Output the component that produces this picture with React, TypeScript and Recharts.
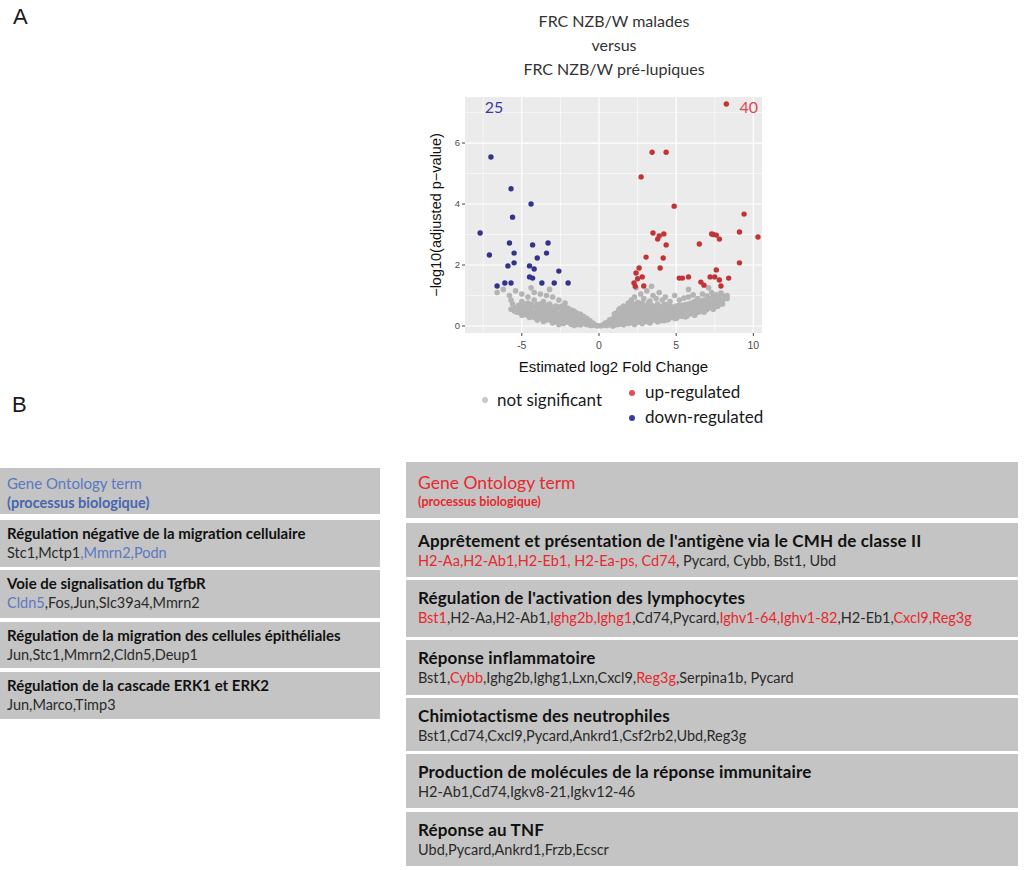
import { ScatterChart, Scatter, XAxis, YAxis, CartesianGrid, ReferenceDot, Label } from 'recharts'

// volcano plot values
const xTicks = [-5, 0, 5, 10]
const yTicks = [0, 2, 4, 6]
const xMinor = [-7.5, -2.5, 2.5, 7.5]
const yMinor = [1, 3, 5, 7]

const downRegulated = [
  [-7.0, 5.54], [-5.7, 4.5], [-4.4, 4.0], [-5.6, 3.57], [-7.7, 3.05], [-7.1, 2.33],
  [-5.8, 2.72], [-4.3, 2.66], [-3.3, 2.72], [-3.4, 2.39], [-5.5, 2.39], [-4.0, 2.23],
  [-5.9, 1.97], [-5.5, 2.07], [-4.5, 1.97], [-4.2, 1.87], [-2.6, 1.8], [-4.5, 1.61],
  [-4.3, 1.57], [-6.6, 1.31], [-6.1, 1.41], [-5.7, 1.41], [-3.7, 1.41], [-2.9, 1.41],
  [-2.0, 1.41],
]

const upRegulated = [
  [8.25, 7.28], [3.44, 5.7], [4.35, 5.7], [2.73, 4.89], [4.87, 3.93], [9.4, 3.67],
  [9.1, 3.08], [10.3, 2.92], [3.5, 3.05], [4.2, 3.02], [3.8, 2.85], [4.35, 2.66],
  [7.3, 3.02], [7.6, 2.98], [7.8, 2.85], [6.5, 2.69], [3.05, 2.26], [4.16, 2.23],
  [3.96, 1.9], [9.1, 2.07], [2.6, 1.9], [2.4, 1.74], [2.8, 1.61], [2.27, 1.41],
  [2.9, 1.31], [5.2, 1.57], [5.8, 1.61], [7.6, 1.84], [7.2, 1.61], [7.5, 1.61],
  [8.4, 1.57], [7.8, 1.51], [6.6, 1.44], [6.8, 1.34], [7.9, 1.31], [5.4, 1.57],
  [2.5, 1.55], [3.9, 2.95], [7.4, 3.0], [2.35, 1.3],
]

const notSignificant = [
  [0.1, 0.01], [0.3, 0.03], [0.5, 0.02], [0.6, 0.08], [0.8, 0.05], [0.9, 0.15], [1.0, 0.03], [1.1, 0.1],
  [1.2, 0.22], [1.3, 0.06], [1.4, 0.3], [1.5, 0.12], [1.6, 0.04], [1.7, 0.2], [1.8, 0.35], [1.9, 0.08],
  [2.0, 0.45], [2.1, 0.15], [2.2, 0.28], [2.3, 0.05], [2.4, 0.38], [2.5, 0.12], [2.6, 0.55], [2.7, 0.22],
  [2.8, 0.08], [2.9, 0.42], [3.0, 0.3], [3.1, 0.15], [3.2, 0.6], [3.3, 0.1], [3.4, 0.35], [3.5, 0.48],
  [3.6, 0.2], [3.7, 0.65], [3.8, 0.14], [3.9, 0.4], [4.0, 0.28], [4.1, 0.55], [4.2, 0.18], [4.3, 0.7],
  [4.4, 0.35], [4.5, 0.22], [4.6, 0.5], [4.7, 0.28], [4.8, 0.62], [4.9, 0.25], [5.0, 0.42], [5.1, 0.3],
  [5.2, 0.55], [5.3, 0.34], [5.4, 0.68], [5.5, 0.38], [5.6, 0.5], [5.7, 0.33], [5.8, 0.6], [5.9, 0.42],
  [6.0, 0.75], [6.1, 0.4], [6.2, 0.55], [6.3, 0.45], [6.4, 0.68], [6.5, 0.5], [6.6, 0.82], [6.7, 0.55],
  [6.8, 0.62], [6.9, 0.52], [7.0, 0.78], [7.1, 0.6], [7.2, 0.9], [7.3, 0.65], [7.4, 0.72], [7.5, 0.62],
  [7.6, 0.85], [7.7, 0.75], [7.8, 0.95], [7.9, 0.8], [8.0, 0.88], [8.2, 0.92],
  [0.7, 0.2], [1.0, 0.4], [1.3, 0.55], [1.6, 0.65], [1.9, 0.75], [2.1, 0.85], [2.3, 0.95], [2.5, 0.78],
  [2.7, 1.05], [2.9, 0.9], [3.1, 1.15], [3.3, 0.82], [3.5, 1.0], [3.7, 0.9], [3.9, 1.1], [4.1, 0.85],
  [4.3, 0.95], [4.6, 0.8], [4.9, 1.0], [5.2, 0.85], [5.5, 0.92], [5.8, 0.95], [6.1, 1.02], [6.4, 0.9],
  [6.7, 1.05], [7.0, 0.98], [7.3, 1.1], [7.6, 1.02], [7.9, 1.08], [8.1, 0.98],
  [0.4, 0.1], [0.9, 0.0], [1.5, 0.25], [2.0, 0.1], [2.6, 0.3], [3.2, 0.2], [3.8, 0.3], [4.4, 0.2],
  [5.0, 0.25], [5.6, 0.3], [6.2, 0.35], [6.8, 0.45], [7.4, 0.55], [8.0, 0.72], [1.2, 0.05], [2.2, 0.6],
  [3.0, 0.5], [4.0, 0.45], [5.3, 0.48], [6.5, 0.6], [7.7, 0.65],
  [2.4, 1.25], [3.4, 1.3], [5.8, 1.2], [7.1, 1.25],
  [0.2, 0.02], [0.4, 0.05], [0.6, 0.03], [0.6, 0.14], [0.8, 0.1], [0.8, 0.22], [1.0, 0.12], [1.0, 0.3],
  [1.2, 0.13], [1.2, 0.35], [1.2, 0.45], [1.4, 0.08], [1.4, 0.2], [1.4, 0.45], [1.4, 0.58], [1.6, 0.15],
  [1.6, 0.35], [1.6, 0.5], [1.8, 0.12], [1.8, 0.25], [1.8, 0.5], [1.8, 0.62], [2.0, 0.2], [2.0, 0.32],
  [2.0, 0.6], [2.0, 0.7], [2.2, 0.1], [2.2, 0.42], [2.2, 0.52], [2.2, 0.72], [2.4, 0.2], [2.4, 0.5],
  [2.4, 0.65], [2.6, 0.15], [2.6, 0.42], [2.6, 0.68], [2.8, 0.3], [2.8, 0.5], [2.8, 0.62], [2.8, 0.75],
  [3.0, 0.2], [3.0, 0.4], [3.0, 0.65], [3.2, 0.28], [3.2, 0.45], [3.2, 0.75], [3.4, 0.18], [3.4, 0.55],
  [3.4, 0.68], [3.6, 0.3], [3.6, 0.42], [3.6, 0.58], [3.8, 0.22], [3.8, 0.5], [3.8, 0.72], [4.0, 0.18],
  [4.0, 0.38], [4.0, 0.62], [4.2, 0.28], [4.2, 0.45], [4.2, 0.68], [4.4, 0.25], [4.4, 0.52], [4.4, 0.62],
  [4.6, 0.32], [4.6, 0.42], [4.6, 0.66], [4.8, 0.3], [4.8, 0.48], [4.8, 0.55], [5.0, 0.3], [5.0, 0.55],
  [5.0, 0.65], [5.2, 0.38], [5.2, 0.45], [5.2, 0.68], [5.4, 0.32], [5.4, 0.5], [5.4, 0.58], [5.6, 0.4],
  [5.6, 0.62], [5.6, 0.7], [5.8, 0.38], [5.8, 0.48], [5.8, 0.72], [6.0, 0.45], [6.0, 0.58], [6.0, 0.65],
  [6.2, 0.42], [6.2, 0.48], [6.2, 0.7], [6.2, 0.8], [6.4, 0.45], [6.4, 0.55], [6.4, 0.78], [6.6, 0.48],
  [6.6, 0.68], [6.6, 0.74], [6.8, 0.55], [6.8, 0.72], [6.8, 0.85], [7.0, 0.55], [7.0, 0.65], [7.0, 0.88],
  [7.2, 0.62], [7.2, 0.75], [7.2, 0.82], [7.4, 0.65], [7.4, 0.85], [7.4, 0.95], [7.6, 0.68], [7.6, 0.75],
  [7.6, 0.92], [7.8, 0.72], [7.8, 0.85], [8.0, 0.8], [8.0, 0.95], [8.3, 0.9], [8.3, 1.0],
  [-0.1, 0.01], [-0.3, 0.04], [-0.5, 0.02], [-0.6, 0.12], [-0.8, 0.05], [-0.9, 0.2], [-1.0, 0.08], [-1.1, 0.28],
  [-1.2, 0.04], [-1.3, 0.15], [-1.4, 0.35], [-1.5, 0.1], [-1.6, 0.25], [-1.7, 0.42], [-1.8, 0.06], [-1.9, 0.3],
  [-2.0, 0.5], [-2.1, 0.18], [-2.2, 0.38], [-2.3, 0.08], [-2.4, 0.55], [-2.5, 0.25], [-2.6, 0.42], [-2.7, 0.12],
  [-2.8, 0.65], [-2.9, 0.32], [-3.0, 0.48], [-3.1, 0.18], [-3.2, 0.72], [-3.3, 0.38], [-3.4, 0.55], [-3.5, 0.22],
  [-3.6, 0.8], [-3.7, 0.42], [-3.8, 0.6], [-3.9, 0.28], [-4.0, 0.7], [-4.1, 0.45], [-4.2, 0.85], [-4.3, 0.35],
  [-4.4, 0.6], [-4.5, 0.5], [-4.6, 0.75], [-4.7, 0.4], [-4.8, 0.62], [-4.9, 0.48], [-5.0, 0.8], [-5.1, 0.52],
  [-5.2, 0.68], [-5.3, 0.45], [-5.4, 0.6], [-5.5, 0.5], [-5.6, 0.72],
  [-2.2, 0.75], [-2.6, 0.85], [-3.0, 0.95], [-3.4, 1.0], [-3.8, 1.05], [-4.2, 1.1], [-4.6, 0.95], [-5.0, 1.05],
  [-5.4, 1.15], [-5.8, 1.0], [-6.2, 1.2], [-6.6, 1.1], [-3.2, 1.2], [-4.4, 1.25],
  [-0.4, 0.1], [-1.0, 0.18], [-1.6, 0.02], [-2.0, 0.3], [-2.6, 0.05], [-3.0, 0.1], [-3.6, 0.15], [-4.0, 0.2],
  [-4.5, 0.28], [-5.0, 0.35], [-1.4, 0.05], [-2.4, 0.15], [-3.3, 0.25],
  [-0.2, 0.02], [-0.4, 0.06], [-0.6, 0.03], [-0.6, 0.18], [-0.8, 0.12], [-0.8, 0.25], [-1.0, 0.14], [-1.0, 0.32],
  [-1.2, 0.12], [-1.2, 0.22], [-1.2, 0.38], [-1.4, 0.2], [-1.4, 0.28], [-1.4, 0.42], [-1.6, 0.1], [-1.6, 0.35],
  [-1.6, 0.48], [-1.8, 0.18], [-1.8, 0.4], [-1.8, 0.52], [-2.0, 0.12], [-2.0, 0.22], [-2.0, 0.42], [-2.0, 0.58],
  [-2.2, 0.25], [-2.2, 0.5], [-2.2, 0.62], [-2.4, 0.3], [-2.4, 0.45], [-2.4, 0.65], [-2.6, 0.18], [-2.6, 0.32],
  [-2.6, 0.62], [-2.8, 0.22], [-2.8, 0.45], [-2.8, 0.55], [-3.0, 0.25], [-3.0, 0.4], [-3.0, 0.62], [-3.2, 0.28],
  [-3.2, 0.5], [-3.2, 0.6], [-3.4, 0.2], [-3.4, 0.42], [-3.4, 0.68], [-3.6, 0.3], [-3.6, 0.5], [-3.6, 0.62],
  [-3.8, 0.25], [-3.8, 0.45], [-3.8, 0.72], [-4.0, 0.32], [-4.0, 0.52], [-4.0, 0.62], [-4.2, 0.28], [-4.2, 0.45],
  [-4.2, 0.65], [-4.4, 0.32], [-4.4, 0.48], [-4.4, 0.7], [-4.6, 0.35], [-4.6, 0.58], [-4.6, 0.65], [-4.8, 0.38],
  [-4.8, 0.52], [-4.8, 0.72], [-5.0, 0.42], [-5.0, 0.55], [-5.0, 0.65], [-5.2, 0.45], [-5.2, 0.58], [-5.4, 0.48],
  [-5.4, 0.55], [-5.7, 0.55], [-5.7, 0.85],
]

// gene ontology tables: [text, highlighted]
type Seg = [string, boolean]
const downTerms: { title: string; genes: Seg[] }[] = [
  { title: 'Régulation négative de la migration cellulaire', genes: [['Stc1,Mctp1', false], [',Mmrn2,Podn', true]] },
  { title: 'Voie de signalisation du TgfbR', genes: [['Cldn5', true], [',Fos,Jun,Slc39a4,Mmrn2', false]] },
  { title: 'Régulation de la migration des cellules épithéliales', genes: [['Jun,Stc1,Mmrn2,Cldn5,Deup1', false]] },
  { title: 'Régulation de la cascade ERK1 et ERK2', genes: [['Jun,Marco,Timp3', false]] },
]
const upTerms: { title: string; genes: Seg[] }[] = [
  {
    title: "Apprêtement et présentation de l'antigène via le CMH de classe II",
    genes: [['H2-Aa,H2-Ab1,H2-Eb1, H2-Ea-ps, Cd74', true], [', Pycard, Cybb, Bst1, Ubd', false]],
  },
  {
    title: "Régulation de l'activation des lymphocytes",
    genes: [
      ['Bst1', true], [',H2-Aa,H2-Ab1,', false], ['Ighg2b,Ighg1', true], [',Cd74,Pycard,', false],
      ['Ighv1-64,Ighv1-82', true], [',H2-Eb1,', false], ['Cxcl9,Reg3g', true],
    ],
  },
  {
    title: 'Réponse inflammatoire',
    genes: [['Bst1,', false], ['Cybb', true], [',Ighg2b,Ighg1,Lxn,Cxcl9,', false], ['Reg3g', true], [',Serpina1b, Pycard', false]],
  },
  { title: 'Chimiotactisme des neutrophiles', genes: [['Bst1,Cd74,Cxcl9,Pycard,Ankrd1,Csf2rb2,Ubd,Reg3g', false]] },
  { title: 'Production de molécules de la réponse immunitaire', genes: [['H2-Ab1,Cd74,Igkv8-21,Igkv12-46', false]] },
  { title: 'Réponse au TNF', genes: [['Ubd,Pycard,Ankrd1,Frzb,Ecscr', false]] },
]
const downRows = [[520, 567], [570, 618], [622, 668], [672, 719]]
const upRows = [[523, 577], [580, 637], [640, 695], [698, 751], [754, 808], [812, 866]]

const toPts = (a: number[][]) => a.map(([x, y]) => ({ x, y }))

const FONT = 'Lato, "Open Sans", sans-serif'
const AXIS_FONT = '"Liberation Sans", Arial, sans-serif'
const BLUE = '#5b78c0'
const RED = '#e8282e'
const BOX = '#c4c4c4'

function dot(color: string, r: number) {
  return (p: any) => <circle cx={p.cx} cy={p.cy} r={r} fill={color} />
}

function Abs({ l, t, children, style }: { l: number; t: number; children: any; style?: any }) {
  return <div style={{ position: 'absolute', left: l, top: t, whiteSpace: 'nowrap', ...style }}>{children}</div>
}

export default function App() {
  return (
    <div style={{ position: 'absolute', left: 0, top: 0, width: 1025, height: 870, background: '#fff', fontFamily: FONT, color: '#1a1a1a' }}>
      <Abs l={13} t={6} style={{ fontFamily: AXIS_FONT, fontSize: 22, lineHeight: '22px' }}>A</Abs>
      <Abs l={12} t={394} style={{ fontFamily: AXIS_FONT, fontSize: 22, lineHeight: '22px' }}>B</Abs>

      <div style={{ position: 'absolute', left: 464, top: 9, width: 300, textAlign: 'center', fontSize: 16, lineHeight: '24px', color: '#333' }}>
        <div>FRC NZB/W malades</div>
        <div>versus</div>
        <div>FRC NZB/W pré-lupiques</div>
      </div>

      <div style={{ position: 'absolute', left: 400, top: 90 }}>
        <ScatterChart width={380} height={290} margin={{ top: 7, right: 18, bottom: 0, left: 0 }}>
          <CartesianGrid fill="#ebebeb" stroke="#fff" strokeWidth={0.6} horizontalValues={yMinor} verticalValues={xMinor} />
          <CartesianGrid stroke="#fff" strokeWidth={1.2} horizontalValues={yTicks} verticalValues={xTicks} />
          <XAxis type="number" dataKey="x" domain={[-8.68, 10.56]} ticks={xTicks} height={47} axisLine={false}
            tickSize={3} tickMargin={6} tickLine={{ stroke: '#444' }} tick={{ fontSize: 10.5, fill: '#4d4d4d', fontFamily: AXIS_FONT }}>
            <Label value="Estimated log2 Fold Change" position="insideBottom" offset={8}
              style={{ fontSize: 15, fill: '#111', fontFamily: AXIS_FONT }} />
          </XAxis>
          <YAxis type="number" dataKey="y" domain={[-0.23, 7.51]} ticks={yTicks} width={65} axisLine={false}
            tickSize={3} tickLine={{ stroke: '#444' }} tick={{ fontSize: 9.5, fill: '#4d4d4d', fontFamily: AXIS_FONT }}>
            <Label value="−log10(adjusted p−value)" angle={-90} position="insideLeft" offset={36}
              style={{ textAnchor: 'middle', fontSize: 14.5, fill: '#111', fontFamily: AXIS_FONT }} />
          </YAxis>
          <Scatter data={toPts(notSignificant)} isAnimationActive={false} shape={dot('#b4b4b4', 2.8)} />
          <Scatter data={toPts(downRegulated)} isAnimationActive={false} shape={dot('#33338c', 2.7)} />
          <Scatter data={toPts(upRegulated)} isAnimationActive={false} shape={dot('#c23434', 2.7)} />
          <ReferenceDot x={-6.8} y={7.18} r={0} label={{ value: '25', fill: '#3a3a9a', fontSize: 16, fontFamily: FONT }} />
          <ReferenceDot x={9.7} y={7.18} r={0} label={{ value: '40', fill: '#e0474f', fontSize: 16, fontFamily: FONT }} />
        </ScatterChart>
      </div>

      {/* legend */}
      <div style={{ position: 'absolute', left: 482, top: 397, width: 6, height: 6, borderRadius: 3, background: '#c8c8c8' }} />
      <Abs l={497} t={390} style={{ fontSize: 17, lineHeight: '20px' }}>not significant</Abs>
      <div style={{ position: 'absolute', left: 629, top: 390, width: 6, height: 6, borderRadius: 3, background: '#e0505c' }} />
      <Abs l={645} t={382} style={{ fontSize: 17, lineHeight: '20px' }}>up-regulated</Abs>
      <div style={{ position: 'absolute', left: 629, top: 415, width: 6, height: 6, borderRadius: 3, background: '#3a3aa0' }} />
      <Abs l={645} t={407} style={{ fontSize: 17, lineHeight: '20px' }}>down-regulated</Abs>

      {/* down-regulated GO table */}
      <div style={{ position: 'absolute', left: 0, top: 468, width: 380, height: 46, background: BOX }}>
        <Abs l={7} t={6} style={{ fontSize: 15, lineHeight: '18px', color: BLUE }}>Gene Ontology term</Abs>
        <Abs l={7} t={26} style={{ fontSize: 14.5, lineHeight: '18px', color: '#4866ae', fontWeight: 700 }}>(processus biologique)</Abs>
      </div>
      {downTerms.map((t, i) => (
        <div key={i} style={{ position: 'absolute', left: 0, top: downRows[i][0], width: 380, height: downRows[i][1] - downRows[i][0], background: BOX }}>
          <Abs l={7} t={4} style={{ fontSize: 15, lineHeight: '18px', fontWeight: 700, color: '#111' }}>{t.title}</Abs>
          <Abs l={7} t={24} style={{ fontSize: 14.5, lineHeight: '18px', color: '#2a2a2a' }}>
            {t.genes.map((g, j) => <span key={j} style={{ color: g[1] ? BLUE : undefined }}>{g[0]}</span>)}
          </Abs>
        </div>
      ))}

      {/* up-regulated GO table */}
      <div style={{ position: 'absolute', left: 406, top: 462, width: 612, height: 56, background: BOX }}>
        <Abs l={12} t={10} style={{ fontSize: 17.5, lineHeight: '22px', color: RED }}>Gene Ontology term</Abs>
        <Abs l={12} t={31} style={{ fontSize: 12.5, lineHeight: '18px', color: RED, fontWeight: 700 }}>(processus biologique)</Abs>
      </div>
      {upTerms.map((t, i) => (
        <div key={i} style={{ position: 'absolute', left: 406, top: upRows[i][0], width: 612, height: upRows[i][1] - upRows[i][0], background: BOX }}>
          <Abs l={12} t={7} style={{ fontSize: 17, lineHeight: '22px', fontWeight: 700, color: '#111', letterSpacing: 0.15 }}>{t.title}</Abs>
          <Abs l={12} t={29} style={{ fontSize: 14.5, lineHeight: '18px', color: '#2a2a2a' }}>
            {t.genes.map((g, j) => <span key={j} style={{ color: g[1] ? RED : undefined }}>{g[0]}</span>)}
          </Abs>
        </div>
      ))}
    </div>
  )
}
